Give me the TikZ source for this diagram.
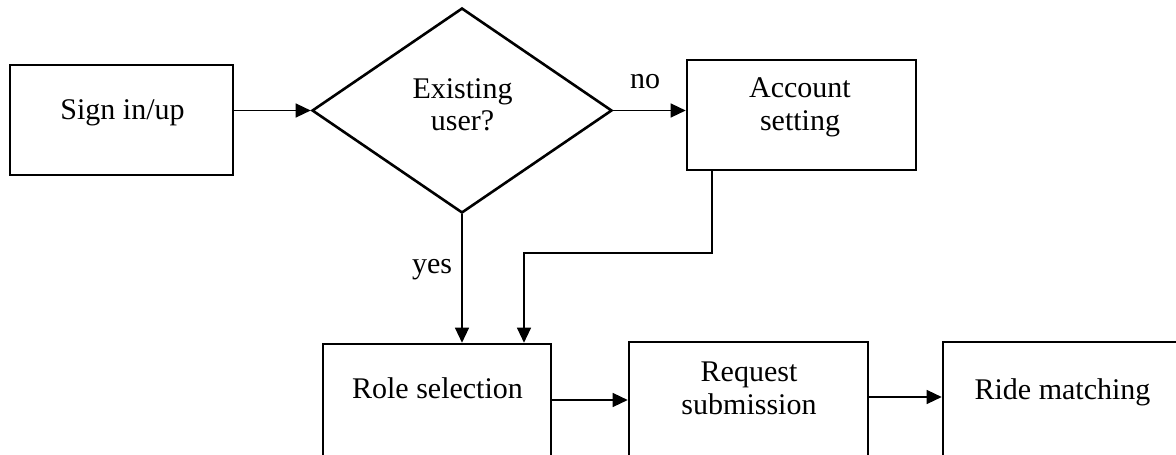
\documentclass[tikz,border=0pt]{standalone}
\usepackage{fontspec}
\setmainfont{Liberation Serif}
\usetikzlibrary{shapes.geometric,arrows.meta}
\tikzset{
  box/.style={draw=black, line width=2.6pt, rectangle, inner sep=0pt},
  decision/.style={draw=black, line width=2.6pt, diamond, inner sep=0pt},
  lbl/.style={inner sep=0pt, anchor=base, font=\fontsize{30}{33}\selectfont},
  conn/.style={draw=black, line width=1.3pt, -{Triangle[length=15pt,width=14pt]}},
}
\begin{document}
\begin{tikzpicture}[x=1pt,y=-1pt]
\fill[white] (0,0) rectangle (1176,455);
\clip (0,0) rectangle (1176,455);
% shapes
\node[box, minimum width=223pt, minimum height=110pt] (sign) at (121.5,120) {};
\node[decision, minimum width=300pt, minimum height=205pt] (dec) at (462,110.5) {};
\node[box, minimum width=229pt, minimum height=110pt] (acct) at (801.5,115) {};
\node[box, minimum width=228pt, minimum height=112pt] (role) at (437,400) {};
\node[box, minimum width=239pt, minimum height=114pt] (req) at (748.5,399) {};
\node[box, minimum width=257pt, minimum height=114pt] (ride) at (1071.5,399) {};
% texts
\node[lbl] (tsign) at (122.5,119) {Sign in/up};
\node[lbl] (tdec1) at (462.5,98) {Existing};
\node[lbl] (tdec2) at (462.5,130) {user?};
\node[lbl] (tacct1) at (800,97) {Account};
\node[lbl] (tacct2) at (800,130) {setting};
\node[lbl] (trole) at (437.5,398) {Role selection};
\node[lbl] (treq1) at (749,381) {Request};
\node[lbl] (treq2) at (749,414) {submission};
\node[lbl] (tride) at (1062.5,399) {Ride matching};
\node[lbl] (tno) at (645,88) {no};
\node[lbl] (tyes) at (432,273) {yes};
% connectors
\coordinate (b1) at (712,253);
\coordinate (b2) at (524,253);
\coordinate (h3) at (900,397);
\draw[conn] (sign.east |- dec.west) -- (dec.west);
\draw[conn] (dec.east) -- (dec.east -| acct.west);
\draw[conn] (dec.south) -- (dec.south |- role.north);
\draw[conn, line width=1.1pt] (acct.south -| b1) -- (b1) -- (b2) -- (b2 |- role.north);
\draw[conn] (role.east) -- (role.east -| req.west);
\draw[conn] (req.east |- h3) -- (ride.west |- h3);
\end{tikzpicture}
\end{document}
